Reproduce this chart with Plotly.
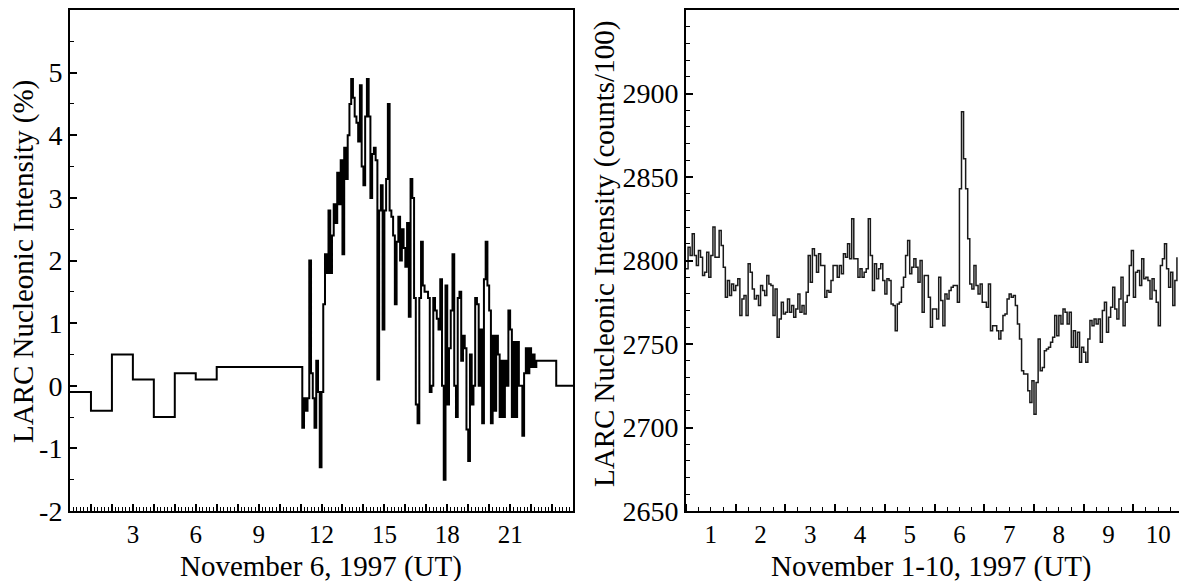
import numpy as np
import pandas as pd
import plotly.graph_objects as go

# ---------------- Left panel: November 6, 1997 (hours UT, % deviation) ----------------
coarse_hours = [0, 1, 2, 3, 4, 5, 6, 7]
coarse_vals = [-0.1, -0.4, 0.5, 0.1, -0.5, 0.2, 0.1, 0.3]

# 5-minute values from 11:05 to 22:10 UT
fine_start_hour = 11 + 5 / 60
fine_vals = [
    -0.67, -0.2, -0.4, -0.2, 2.0, 0.2, -0.2, -0.67, 0.4, -0.1, -1.3,          # 11:05-11:55
    -0.1, 1.3, 2.1, 1.8, 2.8, 1.8, 2.4, 2.9, 2.6, 3.4, 2.9, 3.6,               # 12:00-12:55
    2.1, 3.8, 3.3, 4.0, 4.5, 4.9, 4.6, 4.3, 4.2, 3.9, 4.8, 3.5,                # 13:00-13:55
    3.2, 4.3, 4.9, 4.3, 3.0, 3.7, 3.8, 3.6, 0.1, 2.8, 3.2, 0.9,                # 14:00-14:55
    2.8, 3.3, 4.5, 2.8, 2.7, 2.4, 1.3, 2.3, 2.7, 2.0, 2.5, 2.2,                # 15:00-15:55
    1.9, 2.6, 1.1, 3.3, 3.0, 1.4, -0.3, -0.6, 1.4, 2.3, 1.6, 1.5,              # 16:00-16:55
    1.5, 1.4, -0.1, 0.0, 1.4, 1.2, 1.07, 0.9, 1.7, 0.0, -1.5, 1.6,             # 17:00-17:55
    -0.3, 0.6, 1.2, 2.1, 0.0, -0.5, 1.4, 1.5, 0.4, 0.8, 0.6, -0.7,             # 18:00-18:55
    -1.2, 0.5, -0.3, 0.0, 1.4, 1.3, 0.0, 0.9, -0.6, 1.7, 2.3, 1.6,             # 19:00-19:55
    1.2, -0.6, 0.8, -0.4, 0.8, 0.5, -0.5, 0.4, -0.5, 0.4, 0.0, 1.2,            # 20:00-20:55
    0.9, -0.5, 0.7, -0.5, 0.7, 0.0, 0.0, -0.8, 0.2, 0.6, 0.2, 0.6,             # 21:00-21:55
    0.3, 0.5, 0.3,                                                             # 22:00-22:10
]
late_hours = [22.25, 23.2, 24.0]
late_vals = [0.4, 0.0, 0.0]

fine_hours = list(fine_start_hour + np.arange(len(fine_vals)) * 5 / 60)
left_x = coarse_hours + [11.0] + fine_hours + late_hours
left_y = coarse_vals + [0.3] + fine_vals + late_vals

left_tickvals = list(range(0, 25))
left_ticktext = [str(h) if (h % 3 == 0 and 0 < h < 24) else "" for h in left_tickvals]
left_ytickvals = [-2, -1, 0, 1, 2, 3, 4, 5]
left_yticktext = ["-2", "-1", "0", "1", "2", "3", "4", "5"]

# ---------------- Right panel: November 1-10, 1997 hourly counts/100 ----------------
right_vals = [
    2795, 2808, 2803, 2816, 2803, 2797, 2806, 2802, 2791, 2793,
    2805, 2790, 2803, 2820, 2802, 2802, 2818, 2809, 2796,
    2778, 2788, 2779, 2786, 2782, 2785, 2789, 2767, 2777, 2779,
    2767, 2798, 2793, 2783, 2777, 2779, 2773, 2785, 2782, 2779,
    2791, 2786, 2785, 2767, 2783, 2754, 2765, 2775, 2768, 2769,
    2777, 2769, 2773, 2766, 2771, 2780, 2769, 2773, 2768, 2781,
    2803, 2787, 2807, 2803, 2793, 2804, 2797, 2797, 2778, 2782,
    2781, 2788, 2797, 2797, 2790, 2797, 2792, 2804, 2802, 2810,
    2801, 2825, 2801, 2801, 2790, 2795, 2790, 2793, 2795,
    2825, 2803, 2782, 2798, 2789, 2795, 2798, 2788, 2780,
    2789, 2788, 2774, 2773, 2758, 2774, 2775, 2784, 2790,
    2803, 2812, 2792, 2796, 2801, 2796, 2787, 2800, 2769, 2791,
    2791, 2778, 2760, 2771, 2771,
    2765, 2790, 2776, 2761, 2780, 2777, 2782, 2784, 2785, 2785, 2775,
    2843, 2889, 2861, 2843, 2813, 2786, 2783, 2797, 2785, 2780,
    2786, 2775, 2775, 2772, 2786, 2758, 2761, 2761, 2758, 2753,
    2758, 2767, 2768, 2777, 2780, 2778, 2779, 2773, 2762, 2753,
    2734, 2732, 2732, 2722, 2715, 2728, 2708,
    2727, 2753, 2734, 2736, 2746, 2747, 2748, 2751, 2754, 2767,
    2755, 2767, 2762, 2771, 2769, 2762, 2769, 2748, 2758, 2748,
    2757, 2739, 2748, 2745, 2739, 2753, 2764, 2761, 2765, 2762,
    2765, 2751, 2770, 2775, 2757, 2766, 2772, 2784, 2771, 2765,
    2777, 2790, 2761, 2775, 2779, 2797, 2806, 2778, 2793, 2794,
    2785, 2801, 2789, 2790, 2788, 2777, 2789, 2782, 2775, 2761,
    2797, 2801, 2810, 2795, 2784, 2793, 2773, 2788, 2802,
]
right_times = pd.date_range("1997-11-01 00:00", periods=len(right_vals), freq="h")
right_ytickvals = [2650, 2700, 2750, 2800, 2850, 2900]

FONT = "Liberation Serif"
YTICKFONT = dict(family=FONT, size=28, color="black")
XTICKFONT = dict(family=FONT, size=25, color="black")
TITLEFONT = dict(family=FONT, size=29, color="black")

fig = go.Figure()
fig.add_trace(go.Scatter(x=left_x, y=left_y, mode="lines",
                         line=dict(color="black", width=2, shape="hv"),
                         xaxis="x", yaxis="y", showlegend=False, hoverinfo="skip"))
fig.add_trace(go.Scatter(x=right_times, y=right_vals, mode="lines",
                         line=dict(color="#1a1a1a", width=1.5, shape="hv"),
                         xaxis="x2", yaxis="y2", showlegend=False, hoverinfo="skip"))

common_axis = dict(showgrid=False, zeroline=False, showline=True, linecolor="black",
                   linewidth=2, ticks="inside", ticklen=7, tickwidth=1.5, tickcolor="black")

W, H = 1179, 581
ML, MR, MT, MB = 70, 0, 10, 70
PW = W - ML - MR
PH = H - MT - MB

left_dom = [0, (573 - ML) / PW]
right_dom = [(686 - ML) / PW, 1.0]

fig.update_layout(
    width=W, height=H,
    margin=dict(l=ML, r=MR, t=MT, b=MB, pad=0),
    paper_bgcolor="white", plot_bgcolor="white",
    font=dict(family=FONT, color="black"),
    xaxis=dict(common_axis, domain=left_dom, anchor="y", range=[0, 24],
               tickmode="array", tickvals=left_tickvals, ticktext=left_ticktext,
               mirror=True, tickfont=XTICKFONT, ticklabelstandoff=0,
               minor=dict(tickmode="linear", dtick=1 / 6, tick0=0, ticks="inside",
                          ticklen=4, tickwidth=1, tickcolor="black")),
    yaxis=dict(common_axis, domain=[0, 1], anchor="x", range=[-2, 6],
               tickmode="array", tickvals=left_ytickvals, ticktext=left_yticktext,
               mirror=True, tickfont=YTICKFONT,
               minor=dict(tickmode="linear", dtick=0.5, tick0=0, ticks="inside",
                          ticklen=4, tickwidth=1, tickcolor="black")),
    xaxis2=dict(common_axis, domain=right_dom, anchor="y2", type="date",
                range=["1997-11-01 00:00", "1997-11-10 22:00"],
                tick0="1997-11-01", dtick=86400000, tickformat="%-d",
                ticklabelmode="period", mirror=True, tickfont=XTICKFONT,
                ticklabelstandoff=0,
                minor=dict(tickmode="linear", tick0="1997-11-01", dtick=6 * 3600000,
                           ticks="inside", ticklen=4, tickwidth=1, tickcolor="black")),
    yaxis2=dict(common_axis, domain=[0, 1], anchor="x2", range=[2650, 2950],
                tickmode="array", tickvals=right_ytickvals, mirror=False,
                tickfont=YTICKFONT,
                minor=dict(tickmode="linear", dtick=10, tick0=2650, ticks="inside",
                           ticklen=4, tickwidth=1, tickcolor="black")),
)

def px_x(p):
    return (p - ML) / PW

def px_y(p):
    return (H - MB - p) / PH

annotations = [
    dict(text="November 6, 1997 (UT)", x=px_x(321), y=px_y(566)),
    dict(text="November 1-10, 1997 (UT)", x=px_x(931), y=px_y(566)),
    dict(text="LARC Nucleonic Intensity (%)", x=px_x(23), y=px_y(262), textangle=-90),
    dict(text="LARC Nucleonic Intensity (counts/100)", x=px_x(604), y=px_y(254), textangle=-90),
]
for a in annotations:
    fig.add_annotation(xref="paper", yref="paper", showarrow=False,
                       xanchor="center", yanchor="middle",
                       font=TITLEFONT, **a)

fig.write_html("out.html")
